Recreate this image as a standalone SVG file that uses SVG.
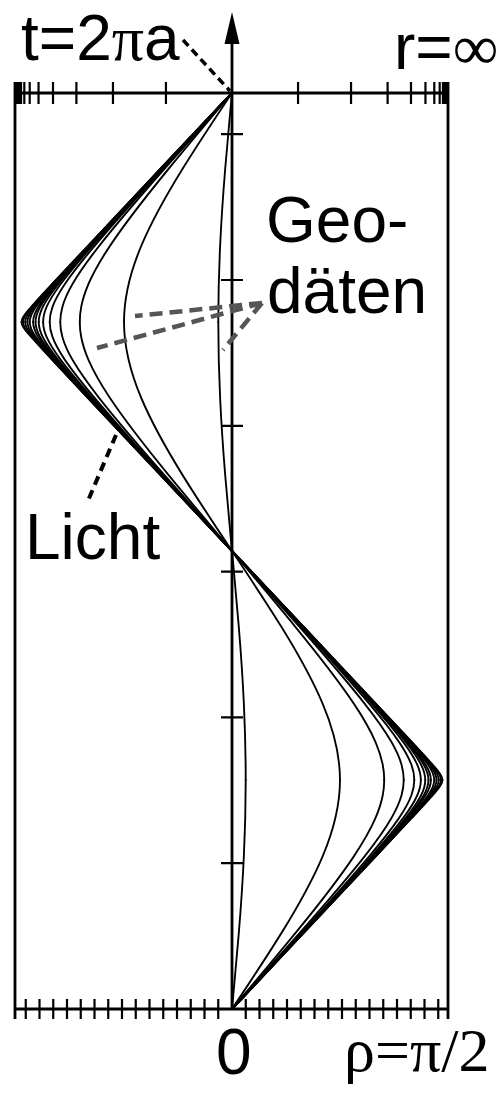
<svg xmlns="http://www.w3.org/2000/svg" width="500" height="1100" viewBox="0 0 500 1100">
<style>
.ax{stroke:#000;stroke-width:2.8;fill:none}
.tk{stroke:#000;stroke-width:2.2;fill:none}
.geo path{fill:none;stroke:#000;stroke-width:0.0135;stroke-linejoin:round;stroke-linecap:round}
text{font-family:"Liberation Sans",Arial,sans-serif;font-size:64px;fill:#000}
.serif{font-family:"Liberation Serif","Times New Roman",serif}
.lead{fill:none;stroke:#000;stroke-width:3.5;stroke-dasharray:8 5}
.lead2{fill:none;stroke:#555;stroke-width:4.5;stroke-dasharray:13 7}
</style>
<defs>
<g id="q" class="geo">
<path d="M0 0C.0174 .1745 .0347 .3491 .0498 .5236C.0648 .6981 .0776 .8727 .0863 1.0472C.095 1.2217 .0997 1.3963 .0997 1.5708"/>
<path d="M0 0C.1234 .1745 .2471 .3491 .3614 .5236C.4756 .6981 .581 .8727 .6591 1.0472C.7371 1.2217 .7854 1.3963 .7854 1.5708"/>
<path d="M0 0C.1561 .1745 .3125 .3491 .4636 .5236C.6148 .6981 .7627 .8727 .8861 1.0472C.9478 1.1345 1.0029 1.2217 1.0431 1.309C1.0671 1.3614 1.0856 1.4137 1.0963 1.4661C1.1035 1.501 1.1071 1.5359 1.1071 1.5708"/>
<path d="M0 0C.1656 .1745 .3313 .3491 .4942 .5236C.6571 .6981 .819 .8727 .9642 1.0472C1.0368 1.1345 1.1054 1.2217 1.1589 1.309C1.191 1.3614 1.2173 1.4137 1.233 1.4661C1.2434 1.501 1.249 1.5359 1.249 1.5708"/>
<path d="M0 0C.1693 .1745 .3388 .3491 .5064 .5236C.6741 .6981 .8415 .8727 .9976 1.0472C1.0756 1.1345 1.1514 1.2217 1.2142 1.309C1.2518 1.3614 1.2846 1.4137 1.3048 1.4661C1.3183 1.501 1.3258 1.5359 1.3258 1.5708"/>
<path d="M0 0C.1711 .1745 .3424 .3491 .5124 .5236C.6825 .6981 .8524 .8727 1.0145 1.0472C1.0955 1.1345 1.1752 1.2217 1.2443 1.309C1.2857 1.3614 1.3234 1.4137 1.3477 1.4661C1.3638 1.501 1.3734 1.5359 1.3734 1.5708"/>
<path d="M0 0C.1722 .1745 .3444 .3491 .5158 .5236C.6872 .6981 .8585 .8727 1.0241 1.0472C1.1069 1.1345 1.1889 1.2217 1.2623 1.309C1.3063 1.3614 1.3477 1.4137 1.3755 1.4661C1.394 1.501 1.4056 1.5359 1.4056 1.5708"/>
<path d="M0 0C.1728 .1745 .3456 .3491 .5178 .5236C.69 .6981 .8622 .8727 1.03 1.0472C1.114 1.1345 1.1974 1.2217 1.2738 1.309C1.3196 1.3614 1.3637 1.4137 1.3947 1.4661C1.4153 1.501 1.4289 1.5359 1.4289 1.5708"/>
<path d="M0 0C.1732 .1745 .3464 .3491 .5191 .5236C.6919 .6981 .8647 .8727 1.034 1.0472C1.1186 1.1345 1.203 1.2217 1.2816 1.309C1.3287 1.3614 1.3748 1.4137 1.4084 1.4661C1.4308 1.501 1.4464 1.5359 1.4464 1.5708"/>
<path d="M0 0C.1737 .1745 .3474 .3491 .5207 .5236C.6941 .6981 .8675 .8727 1.0387 1.0472C1.1242 1.1345 1.2097 1.2217 1.2911 1.309C1.3399 1.3614 1.3885 1.4137 1.4264 1.4661C1.4516 1.501 1.4711 1.5359 1.4711 1.5708"/>
<path d="M0 0C.1739 .1745 .3479 .3491 .5216 .5236C.6953 .6981 .8691 .8727 1.0412 1.0472C1.1273 1.1345 1.2133 1.2217 1.2964 1.309C1.3462 1.3614 1.3962 1.4137 1.4372 1.4661C1.4645 1.501 1.4877 1.5359 1.4877 1.5708"/>
<path d="M0 0C.1741 .1745 .3483 .3491 .5223 .5236C.6963 .6981 .8704 .8727 1.0434 1.0472C1.1299 1.1345 1.2163 1.2217 1.3009 1.309C1.3516 1.3614 1.4026 1.4137 1.4468 1.4661C1.4762 1.501 1.5042 1.5359 1.5042 1.5708"/>
<path d="M0 0C.1743 .1745 .3486 .3491 .5229 .5236C.6971 .6981 .8714 .8727 1.045 1.0472C1.1319 1.1345 1.2187 1.2217 1.3044 1.309C1.3558 1.3614 1.4076 1.4137 1.4548 1.4661C1.4863 1.501 1.5208 1.5359 1.5208 1.5708"/>
<path d="M0 0C.1744 .1745 .3488 .3491 .5231 .5236C.6975 .6981 .8718 .8727 1.0458 1.0472C1.1328 1.1345 1.2198 1.2217 1.306 1.309C1.3578 1.3614 1.4098 1.4137 1.4587 1.4661C1.4913 1.501 1.5308 1.5359 1.5308 1.5708"/>
</g>
</defs>

<g id="frame">
<path class="ax" d="M15 82V1019M448 82V1019M15 93H448M15 1009H448M232 1009V40"/>
<polygon points="232,12 224.5,44 239.5,44" fill="#000"/>
<path id="top-ticks" class="tk" d="M298.05 82v22M351.04 82v22M387.61 82v22M410.99 82v22M425.46 82v22M434.3 82v22M439.68 82v22M442.95 82v22M444.93 82v22M446.13 82v22M446.86 82v22M447.3 82v22M165.95 82v22M112.96 82v22M76.39 82v22M53.01 82v22M38.54 82v22M29.7 82v22M24.32 82v22M21.05 82v22M19.07 82v22M17.87 82v22M17.14 82v22M16.7 82v22"/>
<path id="bottom-ticks" class="tk" d="M245.75 999v20M259.5 999v20M273.25 999v20M287 999v20M300.75 999v20M314.5 999v20M328.25 999v20M342 999v20M355.75 999v20M369.5 999v20M383.25 999v20M397 999v20M410.75 999v20M424.5 999v20M438.25 999v20M218.25 999v20M204.5 999v20M190.75 999v20M177 999v20M163.25 999v20M149.5 999v20M135.75 999v20M122 999v20M108.25 999v20M94.5 999v20M80.75 999v20M67 999v20M53.25 999v20M39.5 999v20M25.75 999v20"/>
<path id="axis-ticks" class="tk" d="M221 863.2h22M221 717.4h22M221 571.6h22M221 425.8h22M221 280h22M221 134.2h22"/>
</g>

<g id="geodesics" transform="matrix(137.5 0 0 -145.8 232 1009)">
<use href="#q"/>
<use href="#q" transform="matrix(1 0 0 -1 0 3.141593)"/>
<use href="#q" transform="matrix(-1 0 0 -1 0 6.283185)"/>
<use href="#q" transform="matrix(-1 0 0 1 0 3.141593)"/>
</g>

<g id="connectors">
<path class="lead" d="M183 40L230 91"/>
<path class="lead" style="stroke-width:4;stroke-dasharray:9 6" d="M116 435L87 503"/>
<path class="lead2" d="M262 303L135 316M262 303L97 348M262 303L223 350"/>
</g>

<g id="labels">
<text x="21" y="60">t=2<tspan class="serif">π</tspan>a</text>
<text x="394" y="69">r=<tspan class="serif">∞</tspan></text>
<text x="266" y="242">Geo-</text>
<text x="267" y="313">däten</text>
<text x="25" y="559">Licht</text>
<text x="216" y="1074">0</text>
<text class="serif" x="344" y="1071" style="font-size:62px">ρ=π/2</text>
</g>
</svg>
